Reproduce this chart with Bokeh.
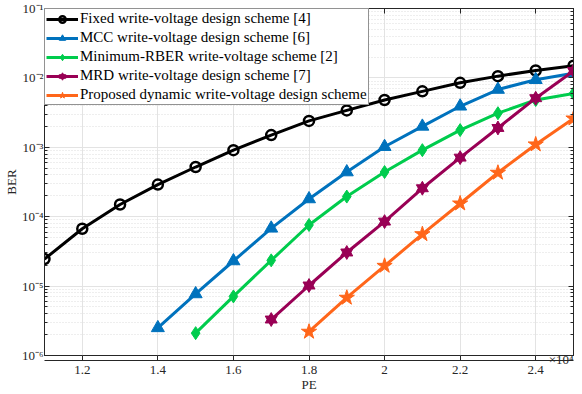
from bokeh.plotting import figure
from bokeh.models import (Range1d, LogAxis, LinearAxis, FixedTicker, LogTicker,
                          CustomJSTickFormatter, Title)
from bokeh.embed import file_html
from bokeh.resources import INLINE

# ---- data ----
pe_fixed = [11000, 12000, 13000, 14000, 15000, 16000, 17000, 18000, 19000, 20000,
            21000, 22000, 23000, 24000, 25000]
ber_fixed = [2.45e-5, 6.7e-5, 1.5e-4, 2.9e-4, 5.2e-4, 9.1e-4, 1.5e-3, 2.4e-3, 3.4e-3,
             4.8e-3, 6.4e-3, 8.5e-3, 1.06e-2, 1.28e-2, 1.5e-2]

pe_mcc = [14000, 15000, 16000, 17000, 18000, 19000, 20000, 21000, 22000, 23000, 24000, 25000]
ber_mcc = [2.5e-6, 7.7e-6, 2.3e-5, 6.8e-5, 1.8e-4, 4.4e-4, 1.02e-3, 2.0e-3, 3.9e-3,
           6.8e-3, 9.4e-3, 1.17e-2]

pe_rber = [15000, 16000, 17000, 18000, 19000, 20000, 21000, 22000, 23000, 24000, 25000]
ber_rber = [2.1e-6, 7.1e-6, 2.35e-5, 7.6e-5, 1.95e-4, 4.4e-4, 9.1e-4, 1.77e-3, 3.1e-3,
            4.8e-3, 5.96e-3]

pe_mrd = [17000, 18000, 19000, 20000, 21000, 22000, 23000, 24000, 25000]
ber_mrd = [3.3e-6, 1.02e-5, 3.05e-5, 8.5e-5, 2.57e-4, 7.1e-4, 1.9e-3, 5.1e-3, 1.26e-2]

pe_prop = [18000, 19000, 20000, 21000, 22000, 23000, 24000, 25000]
ber_prop = [2.2e-6, 6.8e-6, 1.96e-5, 5.6e-5, 1.55e-4, 4.3e-4, 1.1e-3, 2.6e-3]

x_ticks = [12000, 14000, 16000, 18000, 20000, 22000, 24000]
labels = ["Fixed write-voltage design scheme [4]",
          "MCC write-voltage design scheme [6]",
          "Minimum-RBER write-voltage scheme [2]",
          "MRD write-voltage design scheme [7]",
          "Proposed dynamic write-voltage design scheme"]
colors = ["#000000", "#0072BD", "#00CC4D", "#990055", "#FF661A"]

FONT = "Liberation Serif"
AX = "#262626"

p = figure(width=582, height=394, output_backend="svg", toolbar_location=None,
           y_axis_type="log", x_range=Range1d(11000, 25000), y_range=Range1d(1e-6, 1e-1),
           min_border_left=43, min_border_right=9, min_border_top=8, min_border_bottom=38)
p.outline_line_color = AX
p.outline_line_width = 1
p.background_fill_color = "white"

# axes
p.xaxis.ticker = FixedTicker(ticks=x_ticks)
p.xaxis.formatter = CustomJSTickFormatter(code="return (tick/1e4).toString();")
p.yaxis.ticker = LogTicker(num_minor_ticks=10)
p.yaxis.formatter = CustomJSTickFormatter(code="""
const sup = {'-':'\\u207B','0':'\\u2070','1':'\\u00B9','2':'\\u00B2','3':'\\u00B3','4':'\\u2074','5':'\\u2075','6':'\\u2076','7':'\\u2077','8':'\\u2078','9':'\\u2079'};
const e = Math.round(Math.log10(tick)).toString();
let s = '';
for (const c of e) s += sup[c];
return '10' + s;
""")
for ax in (p.xaxis[0], p.yaxis[0]):
    ax.major_tick_in = 5
    ax.major_tick_out = 0
    ax.minor_tick_in = 3
    ax.minor_tick_out = 0
    ax.axis_line_color = AX
    ax.major_tick_line_color = AX
    ax.minor_tick_line_color = AX
    ax.major_label_text_font = FONT
    ax.major_label_text_font_size = "13px"
    ax.major_label_text_color = AX
    ax.axis_label_text_font = FONT
    ax.axis_label_text_font_size = "13px"
    ax.axis_label_text_font_style = "normal"
    ax.axis_label_text_color = AX
p.xaxis.minor_tick_line_color = None
p.xaxis.axis_label = "PE"
p.yaxis.axis_label = "BER"
p.xaxis.major_label_standoff = 5
p.xaxis.axis_label_standoff = 0
p.yaxis.major_label_standoff = 1
p.yaxis.axis_label_standoff = 0

# box ticks on top and right (labels invisible)
blank = CustomJSTickFormatter(code="return '';")
top = LinearAxis(ticker=FixedTicker(ticks=x_ticks), formatter=blank,
                 major_label_text_font_size="1px", major_label_text_alpha=0,
                 major_tick_in=5, major_tick_out=0, minor_tick_line_color=None,
                 major_label_standoff=0, axis_line_color=AX, major_tick_line_color=AX)
p.add_layout(top, "above")
right = LogAxis(ticker=LogTicker(num_minor_ticks=10), formatter=blank,
                major_label_text_font_size="1px", major_label_text_alpha=0,
                major_tick_in=5, major_tick_out=0, minor_tick_in=3, minor_tick_out=0,
                major_label_standoff=0, axis_line_color=AX, major_tick_line_color=AX,
                minor_tick_line_color=AX)
p.add_layout(right, "right")

# grids
p.xgrid.ticker = FixedTicker(ticks=x_ticks)
p.xgrid.grid_line_color = "#e3e3e3"
p.ygrid.grid_line_color = "#e3e3e3"
p.ygrid.minor_grid_line_color = "#dcdcdc"
p.ygrid.minor_grid_line_dash = "1 2"

LW = 3
# series
p.line(pe_fixed, ber_fixed, color=colors[0], line_width=LW, legend_label=labels[0])
p.scatter(pe_fixed, ber_fixed, marker="circle", size=10, line_color=colors[0],
          fill_color=None, line_width=2.5, legend_label=labels[0])

p.line(pe_mcc, ber_mcc, color=colors[1], line_width=LW, legend_label=labels[1])
p.scatter(pe_mcc, ber_mcc, marker="triangle", size=13, color=colors[1], legend_label=labels[1])

p.line(pe_rber, ber_rber, color=colors[2], line_width=LW, legend_label=labels[2])
p.scatter(pe_rber, ber_rber, marker="diamond", size=13, color=colors[2], legend_label=labels[2])

p.line(pe_mrd, ber_mrd, color=colors[3], line_width=LW, legend_label=labels[3])
p.scatter(pe_mrd, ber_mrd, marker="triangle", size=12, color=colors[3], legend_label=labels[3])
p.scatter(pe_mrd, ber_mrd, marker="inverted_triangle", size=12, color=colors[3], legend_label=labels[3])

p.line(pe_prop, ber_prop, color=colors[4], line_width=LW, legend_label=labels[4])
p.scatter(pe_prop, ber_prop, marker="star", size=16, color=colors[4], legend_label=labels[4])

lg = p.legend[0]
lg.location = "top_left"
lg.margin = 0
lg.padding = 1
lg.spacing = 2
lg.glyph_width = 32
lg.glyph_height = 16
lg.label_height = 16
lg.label_standoff = 2
lg.label_text_font = FONT
lg.label_text_font_size = "15px"
lg.label_text_color = "#000000"
lg.border_line_color = AX
lg.border_line_width = 1
lg.background_fill_alpha = 1

# x-axis exponent "x10^4" at the bottom right, in the panel next to the frame
exp_title = Title(text="\u00D710\u2074", align="right", standoff=-12,
                  text_font=FONT, text_font_size="13px", text_font_style="normal",
                  text_color=AX)
p.below.insert(0, exp_title)

open("out.html", "w").write(file_html(p, INLINE))
